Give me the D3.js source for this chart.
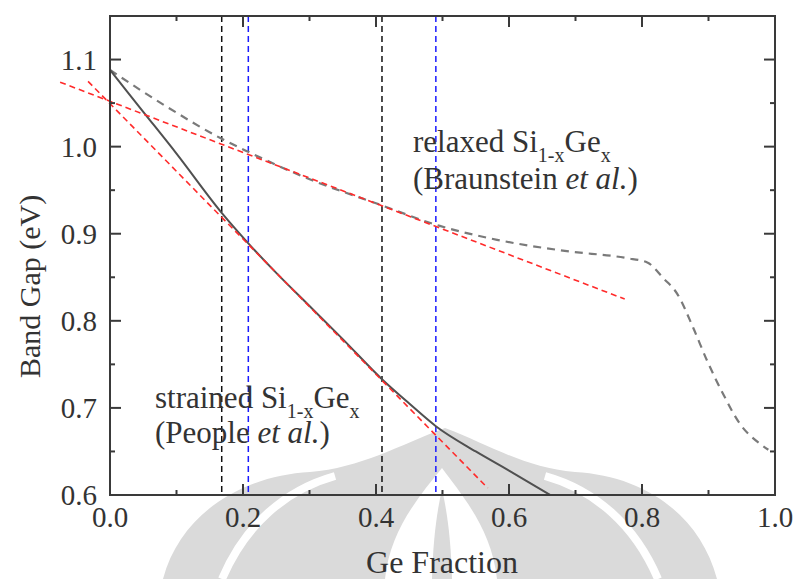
<!DOCTYPE html>
<html>
<head>
<meta charset="utf-8">
<script src="https://cdn.jsdelivr.net/npm/d3@7"></script>
<style>
  html, body { margin: 0; padding: 0; background: #fff; }
  svg { display: block; }
  text { font-family: "Liberation Serif", "DejaVu Serif", serif; fill: #333; }
</style>
</head>
<body>
<svg id="chart" width="795" height="579"></svg>
<script>
// Ge fraction (x) and band gap in eV

// strained Si(1-x)Ge(x), People et al. (solid curve)
const strainedX  = [0.0, 0.05, 0.10, 0.168, 0.208, 0.25, 0.30, 0.35, 0.409, 0.45, 0.49, 0.55, 0.60, 0.662];
const strainedEg = [1.088, 1.040, 0.992, 0.924, 0.889, 0.855, 0.817, 0.779, 0.733, 0.705, 0.679, 0.650, 0.628, 0.600];

// relaxed Si(1-x)Ge(x), Braunstein et al. (grey dashed curve)
const relaxedX  = [0.0, 0.085, 0.168, 0.208, 0.305, 0.40, 0.496, 0.582, 0.687, 0.777, 0.808, 0.832, 0.853, 0.877, 0.898, 0.922, 0.947, 0.977, 0.99];
const relaxedEg = [1.088, 1.046, 1.009, 0.994, 0.961, 0.935, 0.909, 0.893, 0.880, 0.872, 0.867, 0.849, 0.831, 0.792, 0.754, 0.716, 0.682, 0.659, 0.652];

// linear fits (red dashed)
const fitStrainedX  = [-0.033, 0.568];
const fitStrainedEg = [1.075, 0.608];
const fitRelaxedX   = [-0.075, 0.774];
const fitRelaxedEg  = [1.074, 0.825];

// vertical marker lines
const markerBlackX = [0.168, 0.409];
const markerBlueX  = [0.208, 0.490];

// axes
const xDomain = [0, 1];
const yDomain = [0.6, 1.15];
const xMajorTicks = [0.0, 0.2, 0.4, 0.6, 0.8, 1.0];
const xMinorTicks = [0.1, 0.3, 0.5, 0.7, 0.9];
const yMajorTicks = [0.6, 0.7, 0.8, 0.9, 1.0, 1.1];
const yMinorTicks = [0.65, 0.75, 0.85, 0.95, 1.05];

const svg = d3.select("#chart");
const plotL = 110, plotR = 775, plotT = 16, plotB = 495;

const x = d3.scaleLinear().domain(xDomain).range([plotL, plotR]);
const y = d3.scaleLinear().domain(yDomain).range([plotB, plotT]);

// faint logo in the background
const wmGray = "#dadada";
const wm = svg.append("g").attr("class", "watermark");
wm.append("path")
  .attr("d", "M163,579 C180,515 240,476 310,472 C360,468 400,445 445,428 C490,445 525,468 575,472 C645,476 700,515 717,579 Z")
  .attr("fill", wmGray);
wm.append("path").attr("d", "M222,579 C245,525 285,490 335,476").attr("fill", "none").attr("stroke", "#fff").attr("stroke-width", 8);
wm.append("path").attr("d", "M658,579 C635,525 595,490 545,476").attr("fill", "none").attr("stroke", "#fff").attr("stroke-width", 8);
wm.append("path").attr("d", "M385,579 C390,530 420,495 442,468 C462,495 492,530 497,579 Z").attr("fill", "#fff");
wm.append("path").attr("d", "M432,579 C433,540 437,510 442,490 C447,510 451,540 452,579 Z").attr("fill", wmGray);

// vertical markers
svg.append("g").selectAll("line").data(markerBlackX).join("line")
  .attr("x1", d => x(d)).attr("x2", d => x(d)).attr("y1", plotT).attr("y2", plotB)
  .attr("stroke", "#111").attr("stroke-width", 1.5).attr("stroke-dasharray", "6,4");
svg.append("g").selectAll("line").data(markerBlueX).join("line")
  .attr("x1", d => x(d)).attr("x2", d => x(d)).attr("y1", plotT).attr("y2", plotB)
  .attr("stroke", "#1a1aff").attr("stroke-width", 1.5).attr("stroke-dasharray", "6,4");

const line = d3.line().x(d => x(d[0])).y(d => y(d[1]));
const smooth = d3.line().x(d => x(d[0])).y(d => y(d[1])).curve(d3.curveMonotoneX);
const zip = (a, b) => a.map((v, i) => [v, b[i]]);

// relaxed curve
svg.append("path").datum(zip(relaxedX, relaxedEg))
  .attr("d", smooth).attr("fill", "none")
  .attr("stroke", "#7a7a7a").attr("stroke-width", 2.2).attr("stroke-dasharray", "8,6");

// strained curve
svg.append("path").datum(zip(strainedX, strainedEg))
  .attr("d", smooth).attr("fill", "none")
  .attr("stroke", "#505050").attr("stroke-width", 2);

// linear fits
[[fitStrainedX, fitStrainedEg], [fitRelaxedX, fitRelaxedEg]].forEach(([xs, ys]) => {
  svg.append("path").datum(zip(xs, ys))
    .attr("d", line).attr("fill", "none")
    .attr("stroke", "#ff2b2b").attr("stroke-width", 1.6).attr("stroke-dasharray", "6,4");
});

// frame and ticks
const axisColor = "#3a3a3a";
svg.append("rect").attr("x", plotL).attr("y", plotT).attr("width", plotR - plotL).attr("height", plotB - plotT)
  .attr("fill", "none").attr("stroke", axisColor).attr("stroke-width", 2);

const ticks = svg.append("g").attr("stroke", axisColor).attr("stroke-width", 2);
const addXTicks = (vals, len) => vals.forEach(v => {
  ticks.append("line").attr("x1", x(v)).attr("x2", x(v)).attr("y1", plotB).attr("y2", plotB - len);
  ticks.append("line").attr("x1", x(v)).attr("x2", x(v)).attr("y1", plotT).attr("y2", plotT + len);
});
const addYTicks = (vals, len) => vals.forEach(v => {
  ticks.append("line").attr("y1", y(v)).attr("y2", y(v)).attr("x1", plotL).attr("x2", plotL + len);
  ticks.append("line").attr("y1", y(v)).attr("y2", y(v)).attr("x1", plotR).attr("x2", plotR - len);
});
addXTicks(xMajorTicks, 11);
addXTicks(xMinorTicks, 5);
addYTicks(yMajorTicks, 11);
addYTicks(yMinorTicks, 5);

const fmt = d3.format(".1f");
svg.append("g").selectAll("text").data(xMajorTicks).join("text")
  .attr("x", d => x(d)).attr("y", 527).attr("text-anchor", "middle")
  .attr("font-size", 29).text(fmt);
svg.append("g").selectAll("text").data(yMajorTicks).join("text")
  .attr("x", 97).attr("y", d => y(d) + 10).attr("text-anchor", "end")
  .attr("font-size", 29).text(fmt);

// axis titles
svg.append("text").attr("x", 442).attr("y", 573).attr("text-anchor", "middle")
  .attr("font-size", 32).text("Ge Fraction");
svg.append("text").attr("transform", "translate(40,378) rotate(-90)")
  .attr("text-anchor", "start").attr("font-size", 30).text("Band Gap (eV)");

// annotations
function composition(t, prefix) {
  t.append("tspan").text(prefix + "Si");
  t.append("tspan").attr("font-size", 20).attr("dy", 10).text("1-x");
  t.append("tspan").attr("dy", -10).text("Ge");
  t.append("tspan").attr("font-size", 20).attr("dy", 10).text("x");
}
const r1 = svg.append("text").attr("x", 413).attr("y", 152).attr("font-size", 31);
composition(r1, "relaxed ");
const r2 = svg.append("text").attr("x", 413).attr("y", 189).attr("font-size", 31);
r2.append("tspan").text("(Braunstein ");
r2.append("tspan").attr("font-style", "italic").text("et al.");
r2.append("tspan").text(")");

const s1 = svg.append("text").attr("x", 155).attr("y", 408).attr("font-size", 31);
composition(s1, "strained ");
const s2 = svg.append("text").attr("x", 155).attr("y", 443).attr("font-size", 31);
s2.append("tspan").text("(People ");
s2.append("tspan").attr("font-style", "italic").text("et al.");
s2.append("tspan").text(")");
</script>
</body>
</html>
